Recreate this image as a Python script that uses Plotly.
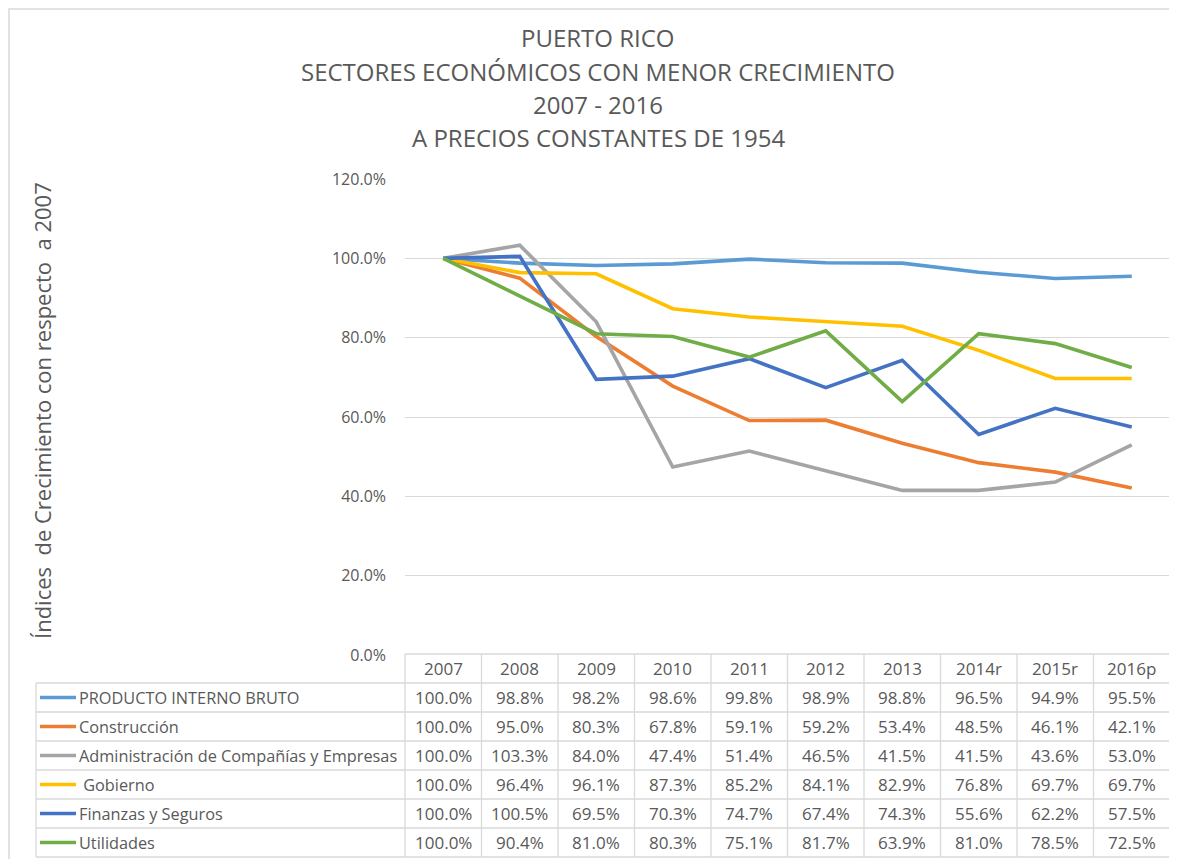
import plotly.graph_objects as go

years = ["2007", "2008", "2009", "2010", "2011", "2012", "2013", "2014r", "2015r", "2016p"]
series_names = ["PRODUCTO INTERNO BRUTO", "Construcción", "Administración de Compañías y Empresas",
                " Gobierno", "Finanzas y Seguros", "Utilidades"]
pib = [100.0, 98.8, 98.2, 98.6, 99.8, 98.9, 98.8, 96.5, 94.9, 95.5]
construccion = [100.0, 95.0, 80.3, 67.8, 59.1, 59.2, 53.4, 48.5, 46.1, 42.1]
administracion = [100.0, 103.3, 84.0, 47.4, 51.4, 46.5, 41.5, 41.5, 43.6, 53.0]
gobierno = [100.0, 96.4, 96.1, 87.3, 85.2, 84.1, 82.9, 76.8, 69.7, 69.7]
finanzas = [100.0, 100.5, 69.5, 70.3, 74.7, 67.4, 74.3, 55.6, 62.2, 57.5]
utilidades = [100.0, 90.4, 81.0, 80.3, 75.1, 81.7, 63.9, 81.0, 78.5, 72.5]
colors = ["#5B9BD5", "#ED7D31", "#A5A5A5", "#FFC000", "#4472C4", "#70AD47"]
title_lines = ["PUERTO RICO", "SECTORES ECONÓMICOS CON MENOR CRECIMIENTO", "2007 - 2016",
               "A PRECIOS CONSTANTES DE 1954"]
y_title = "Índices  de Crecimiento con respecto  a 2007"

all_series = [pib, construccion, administracion, gobierno, finanzas, utilidades]

OFF = 8  # page body margin
W, H = 1177 - OFF, 859 - OFF
# plot area in window pixel coords
L, R, T, B = 405, 1170, 179, 655
FONT = "Open Sans"
TXT = "#595959"
GRID = "#D9D9D9"


def px(x):
    return (x - L) / (R - L)


def py(y):
    return (B - y) / (B - T)


fig = go.Figure()
xs = list(range(len(years)))
for name, vals, c in zip(series_names, all_series, colors):
    fig.add_trace(go.Scatter(x=xs, y=[v / 100 for v in vals], mode="lines", name=name,
                             line=dict(color=c, width=3.6), showlegend=False))

shapes = []
annotations = []

# outer chart border (at figure edge)
shapes.append(dict(type="rect", xref="paper", yref="paper", x0=px(OFF + 1), x1=px(1200), y0=py(OFF + 1),
                   y1=py(900), line=dict(color=GRID, width=1.5), layer="below"))

# table
col_w = (R - L) / len(years)
row_h = 29.0
top = 654
n_rows = len(series_names)
bottom = top + row_h * (n_rows + 1)
tbl_left = 36
shapes.append(dict(type="line", xref="paper", yref="paper", x0=px(L), x1=px(R), y0=py(top), y1=py(top),
                   line=dict(color=GRID, width=1.3)))
for i in range(1, n_rows + 2):
    y = top + row_h * i
    shapes.append(dict(type="line", xref="paper", yref="paper", x0=px(tbl_left), x1=px(R), y0=py(y), y1=py(y),
                       line=dict(color=GRID, width=1.3)))
for k in range(len(years) + 1):
    x = L + col_w * k
    shapes.append(dict(type="line", xref="paper", yref="paper", x0=px(x), x1=px(x), y0=py(top), y1=py(bottom),
                       line=dict(color=GRID, width=1.3)))
shapes.append(dict(type="line", xref="paper", yref="paper", x0=px(tbl_left), x1=px(tbl_left),
                   y0=py(top + row_h), y1=py(bottom), line=dict(color=GRID, width=1.3)))

TS = 17
LS = 16.3
for k, yr in enumerate(years):
    annotations.append(dict(x=px(L + col_w * (k + 0.5)), y=py(top + row_h / 2), xref="paper", yref="paper",
                            text=yr, showarrow=False, font=dict(family=FONT, size=TS, color=TXT),
                            xanchor="center", yanchor="middle"))
for i, (name, vals, c) in enumerate(zip(series_names, all_series, colors)):
    yc = top + row_h * (i + 1.5)
    shapes.append(dict(type="line", xref="paper", yref="paper", x0=px(40), x1=px(76), y0=py(yc), y1=py(yc),
                       line=dict(color=c, width=3.6)))
    annotations.append(dict(x=px(77), y=py(yc), xref="paper", yref="paper", text=name, showarrow=False,
                            font=dict(family=FONT, size=LS, color=TXT), xanchor="left", yanchor="middle"))
    for k, v in enumerate(vals):
        annotations.append(dict(x=px(L + col_w * (k + 0.5)), y=py(yc), xref="paper", yref="paper",
                                text=f"{v:.1f}%", showarrow=False,
                                font=dict(family=FONT, size=TS, color=TXT), xanchor="center", yanchor="middle"))

for j, t in enumerate(title_lines):
    annotations.append(dict(x=px(598), y=py(38 + 33.3 * j), xref="paper", yref="paper", text=t, showarrow=False,
                            font=dict(family=FONT, size=24, color=TXT), xanchor="center", yanchor="middle"))
annotations.append(dict(x=px(42), y=py(411), xref="paper", yref="paper", text=y_title, showarrow=False,
                        textangle=-90, font=dict(family=FONT, size=22, color=TXT),
                        xanchor="center", yanchor="middle"))

fig.update_layout(
    width=W, height=H,
    margin=dict(l=L - OFF, r=W - (R - OFF), t=T - OFF, b=H - (B - OFF), pad=0),
    paper_bgcolor="white", plot_bgcolor="white",
    shapes=shapes, annotations=annotations,
    xaxis=dict(range=[-0.5, len(years) - 0.5], showticklabels=False, showgrid=False, zeroline=False,
               showline=False, fixedrange=True),
    yaxis=dict(range=[0, 1.2], dtick=0.2, tickformat=".1%", showgrid=True, gridcolor=GRID, gridwidth=1.3,
               zeroline=False, showline=False, ticks="", ticklabelstandoff=18,
               tickfont=dict(family=FONT, size=16, color=TXT)),
    font=dict(family=FONT, color=TXT),
)

fig.write_html("out.html")
